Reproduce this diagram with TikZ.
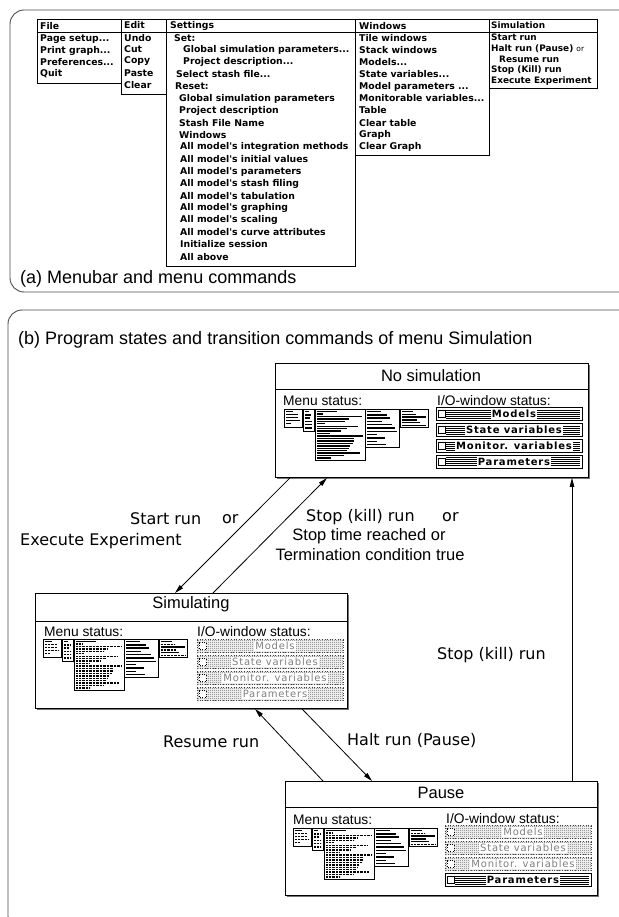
\documentclass[tikz,border=0pt]{standalone}
\usepackage{fontspec}
\usetikzlibrary{arrows.meta,patterns}
\setmainfont{Liberation Sans}
\newfontfamily\chicago{DejaVu Sans}
\newfontfamily\rowface{DejaVu Sans}[LetterSpace=8]
\newfontfamily\lucida{DejaVu Sans}
\newfontfamily\helv{Liberation Sans}

% three dots written through a macro so that \foreach lists do not read them as a range
\newcommand\mdots{...}

% fine stipple used for disabled window rows
\pgfdeclarepatternformonly{stipple}{\pgfqpoint{0pt}{0pt}}{\pgfqpoint{2pt}{2pt}}{\pgfqpoint{2pt}{2pt}}{%
  \pgfpathrectangle{\pgfqpoint{0pt}{0pt}}{\pgfqpoint{0.9pt}{0.9pt}}%
  \pgfpathrectangle{\pgfqpoint{1pt}{1pt}}{\pgfqpoint{0.9pt}{0.9pt}}%
  \pgfusepath{fill}}

\tikzset{
  panel/.style={draw=black!70, line width=0.9pt, rounded corners=14pt},
  menubox/.style={draw=black, line width=0.9pt},
  mitem/.style={anchor=west, inner sep=0pt, font=\chicago\bfseries\fontsize{9.3}{10}\selectfont},
  simitem/.style={mitem, font=\chicago\bfseries\fontsize{8.9}{10}\selectfont},
  statebox/.style={draw=black, line width=0.9pt, anchor=north west, inner sep=0pt},
  shadowline/.style={draw=black!55, line width=1.2pt},
  statetitle/.style={inner sep=0pt, font=\helv\fontsize{16.5}{18}\selectfont},
  statuslabel/.style={anchor=west, inner sep=0pt, font=\helv\fontsize{13.8}{15}\selectfont},
  captext/.style={anchor=west, inner sep=0pt, font=\helv\fontsize{18}{20}\selectfont},
  translabel/.style={anchor=west, inner sep=0pt, font=\lucida\fontsize{16}{18}\selectfont},
  helvlabel/.style={inner sep=0pt, font=\helv\fontsize{16.5}{18}\selectfont},
  trans/.style={line width=0.8pt, -{Triangle[length=9pt,width=4.5pt]}},
  thumbframe/.style={draw=black, line width=0.7pt, fill=white},
  tbon/.style={line width=1.4pt},
  tboff/.style={line width=1.4pt, dash pattern=on 0.7pt off 0.7pt},
  rowon/.style={draw=black, line width=0.9pt, fill=white},
  rowoff/.style={draw=black!75, line width=0.6pt, dotted, pattern=stipple, pattern color=black!60},
  stripe/.style={line width=0.45pt},
  rowtext/.style={inner sep=1pt, fill=white, font=\rowface\bfseries\fontsize{10}{10}\selectfont},
  rowgray/.style={inner sep=1pt, fill=white, text=black!50, font=\rowface\fontsize{10}{10}\selectfont},
}

% one drop-down box of a miniature menubar: x, y, width, height, pitch, bars
\newcommand\thumbbox[6]{%
  \draw[thumbframe] ({#1},{#2}) rectangle ({#1+#3},{#2+#4});
  \draw[line width=0.6pt] ({#1+2},{#2+1.8}) -- ({#1+2+0.4*#3},{#2+1.8});
  \foreach \len/\sty [count=\k] in #6
    \draw[\sty] ({#1+2},{#2+2.5+#5*\k}) -- ++(\len,0);
}
% miniature of the whole menubar: x, y, then the five bar lists
\newcommand\menuthumb[7]{%
  \thumbbox{#1}{#2}{18}{18}{3}{#3}
  \thumbbox{#1+19}{#2}{11}{22}{3.3}{#4}
  \thumbbox{#1+31}{#2}{50}{51}{2.45}{#5}
  \thumbbox{#1+81}{#2}{34}{38}{3.3}{#6}
  \thumbbox{#1+116}{#2}{28}{18}{2.8}{#7}
}
% I/O-window rows: name, x, y (centre line), width, label
\newcommand\iorowon[5]{%
  \draw[rowon] ({#2},{#3-6.5}) rectangle ({#2+#4},{#3+6.5});
  \foreach \dy in {-4,-2,0,2,4}
    \draw[stripe] ({#2+10},{#3+\dy}) -- ({#2+#4-2},{#3+\dy});
  \draw[line width=0.6pt, fill=white] ({#2+2},{#3-3.5}) rectangle ({#2+9},{#3+3.5});
  \node[rowtext] (#1) at ({#2+#4/2+5},{#3}) {#5};
}
\newcommand\iorowoff[5]{%
  \draw[rowoff] ({#2},{#3-6.5}) rectangle ({#2+#4},{#3+6.5});
  \draw[line width=0.5pt, dotted, fill=white] ({#2+2},{#3-3.5}) rectangle ({#2+9},{#3+3.5});
  \node[rowgray] (#1) at ({#2+#4/2+5},{#3}) {#5};
}

\def\Fon{12/tbon,12/tbon,14/tbon,5/tbon}
\def\Foff{12/tboff,12/tboff,14/tboff,5/tboff}
\def\Eon{6/tbon,5/tbon,7/tbon,7/tbon,7/tbon}
\def\Eoff{6/tboff,5/tboff,7/tboff,7/tboff,7/tboff}
\def\Son{6/tbon,45/tbon,32/tbon,28/tbon,8/tbon,41/tbon,30/tbon,24/tbon,13/tbon,46/tbon,37/tbon,37/tbon,36/tbon,33/tbon,32/tbon,30/tbon,43/tbon,27/tbon,14/tbon}
\def\Soff{6/tboff,45/tboff,32/tboff,28/tboff,8/tboff,41/tboff,30/tboff,24/tboff,13/tboff,46/tboff,37/tboff,37/tboff,36/tboff,33/tboff,32/tboff,30/tboff,43/tboff,27/tboff,14/tboff}
\def\Won{20/tbon,23/tbon,15/tbon,25/tbon,28/tbon,30/tbon,10/tbon,18/tbon,10/tbon,19/tbon}
\def\Simon{14/tbon,24/tbon,15/tbon,18/tbon,24/tbon}
\def\Simrun{14/tboff,24/tbon,15/tboff,18/tbon,24/tboff}
\def\Simpause{14/tboff,24/tbon,15/tbon,18/tbon,24/tboff}

\begin{document}
\begin{tikzpicture}[x=1pt,y=-1pt]
\useasboundingbox[fill=white] (0,0) rectangle (618,917);

% ---------- panel (a): menubar ----------
\draw[panel] (650,10) -- (10,10) -- (10,292) -- (650,292);
\node[captext] (capa) at (20,279) {(a) Menubar and menu commands};

\draw[menubox] (37,19) rectangle (121,83);
\draw[menubox] (121,19) rectangle (166,94);
\draw[menubox] (166,19) rectangle (355,266);
\draw[menubox] (355,19) rectangle (489,155);
\draw[menubox] (489,19) rectangle (597,88);
\draw[menubox] (37,32) -- (597,32);

\node[mitem] (mfile) at (40,26) {File};
\node[mitem] (medit) at (124,25.5) {Edit};
\node[mitem] (mset) at (170,26) {Settings};
\node[mitem] (mwin) at (359,26) {Windows};
\node[simitem] (msim) at (491,25.5) {Simulation};

\foreach \t/\yy [count=\i] in {Page setup\mdots/39, Print graph\mdots/50.5, Preferences\mdots/62, Quit/74}
  \node[mitem] (file\i) at (40,\yy) {\t};
\foreach \t/\yy [count=\i] in {Undo/38, Cut/49.5, Copy/61.5, Paste/73, Clear/85}
  \node[mitem] (edit\i) at (124,\yy) {\t};
\foreach \t/\xx/\yy [count=\i] in {
    Set:/174/38,
    Global simulation parameters\mdots/183/50,
    Project description\mdots/183/62,
    Select stash file\mdots/176/74,
    Reset:/175/86.5,
    Global simulation parameters/179/98.5,
    Project description/179/110.5,
    Stash File Name/179/123,
    Windows/179/135,
    All model's integration methods/180/147,
    All model's initial values/180/159,
    All model's parameters/180/171.5,
    All model's stash filing/180/183.5,
    All model's tabulation/180/196,
    All model's graphing/180/208,
    All model's scaling/180/220,
    All model's curve attributes/180/232.5,
    Initialize session/180/244.5,
    All above/180/257}
  \node[mitem] (set\i) at (\xx,\yy) {\t};
\foreach \t/\yy [count=\i] in {Tile windows/38, Stack windows/50, Models\mdots/62, State variables\mdots/74,
    Model parameters \mdots/86.5, Monitorable variables\mdots/98.5, Table/110.5, Clear table/123,
    Graph/135, Clear Graph/147}
  \node[mitem] (win\i) at (359,\yy) {\t};
\node[simitem] (sim1) at (491,37) {Start run};
\node[simitem] (sim2) at (491,48.5) {Halt run (Pause) {\lucida\mdseries\fontsize{7.5}{8}\selectfont or}};
\node[simitem] (sim3) at (499,59.5) {Resume run};
\node[simitem] (sim4) at (491,70.5) {Stop (Kill) run};
\node[simitem] (sim5) at (491,81.5) {Execute Experiment};

% ---------- panel (b): program states ----------
\draw[panel] (650,310) -- (8,310) -- (8,930) -- (650,930);
\node[captext] (capb) at (18,340) {(b) Program states and transition commands of menu Simulation};

% state: no simulation
\draw[shadowline] (277,478) -- (589.5,478) -- (589.5,365);
\node[statebox, minimum width=313pt, minimum height=114pt] (nosim) at (275,363) {};
\draw[line width=0.9pt] ([yshift=-26pt]nosim.north west) -- ([yshift=-26pt]nosim.north east);
\node[statetitle] (nosimt) at (431,375.5) {No simulation};
\node[statuslabel] (nosimm) at (283,401) {Menu status:};
\node[statuslabel] (nosimio) at (437,400.5) {I/O-window status:};
\menuthumb{284}{409}{\Fon}{\Eon}{\Son}{\Won}{\Simon}
\iorowon{nsr1}{436}{414}{146}{Models}
\iorowon{nsr2}{436}{430}{146}{State variables}
\iorowon{nsr3}{436}{446}{146}{Monitor. variables}
\iorowon{nsr4}{436}{461.5}{146}{Parameters}

% state: simulating
\draw[shadowline] (37,709) -- (348.5,709) -- (348.5,595);
\node[statebox, minimum width=312pt, minimum height=115pt] (sim) at (35,593) {};
\draw[line width=0.9pt] ([yshift=-28pt]sim.north west) -- ([yshift=-28pt]sim.north east);
\node[statetitle] (simt) at (191,604) {Simulating};
\node[statuslabel] (simm) at (44,632) {Menu status:};
\node[statuslabel] (simio) at (197,632) {I/O-window status:};
\menuthumb{43}{639}{\Foff}{\Eoff}{\Soff}{\Won}{\Simrun}
\iorowoff{sr1}{197}{646}{146}{Models}
\iorowoff{sr2}{197}{662}{146}{State variables}
\iorowoff{sr3}{197}{678}{146}{Monitor. variables}
\iorowoff{sr4}{197}{694}{146}{Parameters}

% state: pause
\draw[shadowline] (287,896) -- (598.5,896) -- (598.5,783);
\node[statebox, minimum width=312pt, minimum height=114pt] (pause) at (285,781) {};
\draw[line width=0.9pt] ([yshift=-26pt]pause.north west) -- ([yshift=-26pt]pause.north east);
\node[statetitle] (pauset) at (441,793) {Pause};
\node[statuslabel] (pausem) at (293,820) {Menu status:};
\node[statuslabel] (pauseio) at (446,819) {I/O-window status:};
\menuthumb{293}{828}{\Foff}{\Eoff}{\Soff}{\Won}{\Simpause}
\iorowoff{pr1}{445}{832}{146}{Models}
\iorowoff{pr2}{445}{848}{146}{State variables}
\iorowoff{pr3}{445}{864}{146}{Monitor. variables}
\iorowon{pr4}{445}{880}{146}{Parameters}

% transitions
\draw[trans] ([xshift=15pt]nosim.south west) -- ([xshift=140pt]sim.north west);
\draw[trans] ([xshift=178pt]sim.north west) -- ([xshift=52pt]nosim.south west);
\draw[trans] ([xshift=38pt]pause.north west) -- ([xshift=220pt]sim.south west);
\draw[trans] ([xshift=267pt]sim.south west) -- ([xshift=87pt]pause.north west);
\draw[trans] ([xshift=287pt]pause.north west) -- ([xshift=297pt]nosim.south west);

% transition commands
\node[translabel] (lstart) at (130,519) {Start run};
\node[translabel] (lor1) at (222,519) {or};
\node[translabel] (lexec) at (20,541) {Execute Experiment};
\node[translabel] (lstop) at (306,517) {Stop (kill) run};
\node[translabel] (lor2) at (442,517) {or};
\node[helvlabel] (lstoptime) at (369,536) {Stop time reached or};
\node[helvlabel] (lterm) at (370,555) {Termination condition true};
\node[translabel] (lkill) at (437,655) {Stop (kill) run};
\node[translabel] (lresume) at (163,742) {Resume run};
\node[translabel] (lhalt) at (347,740) {Halt run (Pause)};
\end{tikzpicture}
\end{document}
